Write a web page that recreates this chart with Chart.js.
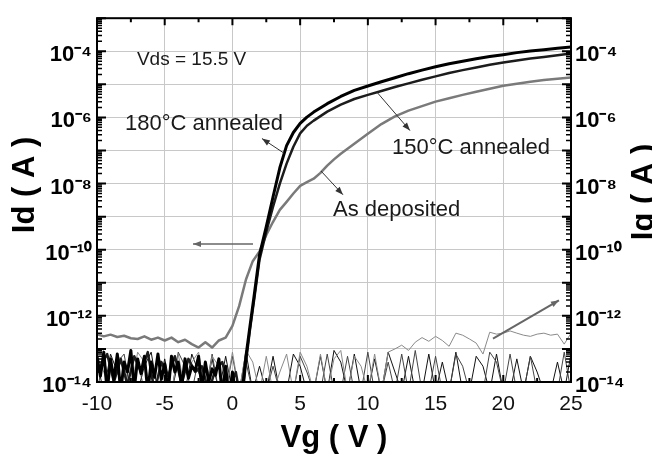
<!DOCTYPE html>
<html>
<head>
<meta charset="utf-8">
<script src="https://cdn.jsdelivr.net/npm/chart.js@4.4.1/dist/chart.umd.min.js"></script>
<style>
  html, body { margin: 0; padding: 0; background: #fff; overflow: hidden; }
  #wrap { width: 652px; height: 454px; }
</style>
</head>
<body>
<div id="wrap"><canvas id="c" width="652" height="454"></canvas></div>
<script>
// ---- data ----
// Id, 180 C annealed (thick black)
const vg180 = [-10,-9.75,-9.5,-9.25,-9,-8.75,-8.5,-8.25,-8,-7.75,-7.5,-7.25,-7,-6.75,-6.5,-6.25,-6,-5.75,-5.5,-5.25,
  -5,-4.75,-4.5,-4.25,-4,-3.75,-3.5,-3.25,-3,-2.75,-2.5,-2.25,-2,-1.75,-1.5,-1.25,-1,-0.75,-0.5,-0.25,0,0.25,0.5,
  0.8,1.0,1.3,1.6,2.0,2.5,3.0,3.5,4.0,4.5,5,5.5,6,7,8,9,10,11,12,13,14,15,16,17,18,19,20,21,22,23,24,25];
const id180 = [6e-14,1.5e-14,8e-14,5e-15,5e-14,1.2e-14,7e-14,5e-15,4e-14,2e-14,
  9e-14,6e-15,5e-14,1.8e-14,6e-14,5e-15,4e-14,1.4e-14,7e-14,1.2e-14,
  3.5e-14,5e-15,6e-14,2e-14,4e-14,7e-15,5e-14,1.3e-14,3e-14,2.2e-14,
  6e-14,6e-15,4e-14,1e-14,2.5e-14,1.6e-14,5e-14,4e-15,3e-14,3e-15,2e-14,4e-15,3e-15,
  1e-14,6e-14,5e-13,4e-12,7e-11,5e-10,4e-9,3e-8,1.4e-7,3.5e-7,6.6e-7,1.02e-6,1.45e-6,2.6e-6,4.3e-6,6.6e-6,8.9e-6,
  1.2e-5,1.58e-5,2.1e-5,2.7e-5,3.4e-5,4.2e-5,5.0e-5,5.9e-5,6.9e-5,7.9e-5,9.1e-5,1.02e-4,1.12e-4,1.23e-4,1.35e-4];

// Id, 150 C annealed (black)
const vg150 = [-9.75,-9.25,-8.75,-8.25,-7.75,-7.25,-6.75,-6.25,-5.75,-5.25,-4.75,-4.25,-3.75,-3.25,-2.75,-2.25,-1.75,-1.25,-0.75,-0.25,0.25,
  0.6,0.85,1.0,1.3,1.6,2.0,2.5,3.0,3.5,4.0,4.5,5,5.5,6,7,8,9,10,11,12,13,14,15,16,17,18,19,20,21,22,23,24,25];
const id150 = [3e-14,7e-14,1e-14,5e-14,8e-15,6e-14,2e-14,8e-14,5e-15,4e-14,1.5e-14,6e-14,9e-15,5e-14,2e-14,3e-14,5e-15,2.5e-14,4e-14,6e-15,2e-14,
  3e-15,1e-14,4e-14,4e-13,3e-12,5e-11,3.5e-10,2e-9,1e-8,4e-8,1.3e-7,3.3e-7,5.6e-7,8e-7,1.5e-6,2.45e-6,3.6e-6,4.8e-6,
  6.3e-6,8.3e-6,1.07e-5,1.38e-5,1.74e-5,2.19e-5,2.69e-5,3.24e-5,3.89e-5,4.57e-5,5.25e-5,6.03e-5,6.76e-5,7.59e-5,8.51e-5];

// Id, as deposited (grey)
const vgDep = [-10,-9.5,-9,-8.5,-8,-7.5,-7,-6.5,-6,-5.5,-5,-4.5,-4,-3.5,-3,-2.5,-2,-1.5,-1,-0.5,0,
  0.5,1,1.5,2,2.5,3,3.5,4,4.5,5,5.5,6,6.5,7,7.5,8,9,10,11,12,13,14,15,16,17,18,19,20,21,22,23,24,25];
const idDep = [2.8e-13,2.4e-13,2.7e-13,2.3e-13,2.5e-13,2.1e-13,2.0e-13,2.4e-13,1.9e-13,2.2e-13,1.8e-13,2.2e-13,1.6e-13,1.9e-13,1.4e-13,1.1e-13,1.6e-13,1.1e-13,1.8e-13,2.2e-13,5e-13,
  2e-12,1.26e-11,4.5e-11,8.9e-11,2.8e-10,7e-10,1.6e-9,2.8e-9,5e-9,8.5e-9,1.1e-8,1.4e-8,2.1e-8,3.5e-8,5.4e-8,8e-8,
  1.6e-7,3.2e-7,6.3e-7,1.07e-6,1.6e-6,2.2e-6,3e-6,3.8e-6,4.8e-6,6e-6,7.4e-6,9.1e-6,1.05e-5,1.2e-5,1.35e-5,1.48e-5,1.62e-5];

// Ig, gate leakage (thin lines), shared Vg
const vgIg = [-10,-9.5,-9,-8.5,-8,-7.5,-7,-6.5,-6,-5.5,-5,-4.5,-4,-3.5,-3,-2.5,-2,-1.5,-1,-0.5,
  0,0.5,1,1.5,2,2.5,3,3.5,4,4.5,5,5.5,6,6.5,7,7.5,8,8.5,9,9.5,
  10,10.5,11,11.5,12,12.5,13,13.5,14,14.5,15,15.5,16,16.5,17,17.5,18,18.5,19,19.5,
  20,20.5,21,21.5,22,22.5,23,23.5,24,24.5,25];
const ig180 = [4e-14,5e-15,7e-14,2e-14,5e-15,6e-14,5e-15,3e-14,8e-14,5e-15,
  5e-14,5e-15,4e-14,5e-15,7e-14,2e-14,5e-15,5e-14,5e-15,6e-14,
  5e-15,5e-15,8e-14,5e-15,3e-14,5e-15,6e-14,5e-15,5e-15,7e-14,
  3e-14,5e-15,5e-15,6e-14,5e-15,9e-14,4e-14,5e-15,7e-14,5e-15,
  5e-15,5e-14,5e-15,8e-14,2e-14,5e-15,6e-14,5e-15,5e-15,7e-14,
  5e-15,4e-14,5e-15,8e-14,5e-15,5e-15,6e-14,3e-14,5e-15,7e-14,
  5e-15,5e-15,5e-14,5e-15,6e-14,2e-14,5e-15,5e-15,4e-14,5e-15,7e-14];
const ig150 = [5e-15,6e-14,5e-15,4e-14,7e-14,5e-15,5e-14,5e-15,5e-15,6e-14,
  2e-14,5e-15,8e-14,3e-14,5e-15,5e-14,5e-15,7e-14,5e-15,5e-15,
  6e-14,5e-15,4e-14,5e-15,5e-15,5e-15,3e-14,5e-15,5e-15,5e-15,
  6e-14,2e-14,5e-15,5e-15,7e-14,5e-15,5e-15,6e-14,5e-15,5e-15,
  8e-14,5e-15,5e-15,4e-14,5e-15,7e-14,5e-15,9e-14,5e-15,5e-15,
  6e-14,5e-15,5e-15,7e-14,3e-14,5e-15,5e-15,5e-15,8e-14,4e-14,
  5e-15,7e-14,5e-15,5e-15,6e-14,5e-15,5e-15,5e-15,5e-15,8e-14,5e-15];
const igDep = [6e-14,2e-14,5e-15,7e-14,3e-14,5e-15,8e-14,4e-14,5e-15,6e-14,
  2e-14,5e-15,7e-14,5e-15,4e-14,8e-14,5e-15,6e-14,3e-14,5e-15,
  8e-14,5e-15,9e-14,4e-14,5e-15,6e-14,5e-15,2e-14,7e-14,5e-15,
  8e-14,3e-14,5e-15,7e-14,5e-15,5e-14,9e-14,5e-15,6e-14,3e-14,
  5e-15,7e-14,5e-15,8e-14,1e-13,1.3e-13,9e-14,1.6e-13,2.2e-13,1.7e-13,
  2.4e-13,1.8e-13,1.2e-13,3e-13,2.6e-13,2e-13,1.5e-13,7e-14,3.2e-13,2.8e-13,
  3e-13,3.5e-13,3e-13,2.6e-13,2.4e-13,2.8e-13,3e-13,2.6e-13,2.8e-13,1.4e-13,3e-13];

// axis ticks
const vgTicks = [-10,-5,0,5,10,15,20,25];
const iTicks = [1e-14,1e-13,1e-12,1e-11,1e-10,1e-9,1e-8,1e-7,1e-6,1e-5,1e-4,1e-3];
const iLabelled = [-14,-12,-10,-8,-6,-4];

// annotations (data coordinates)
const notes = [
  { text: 'Vds = 15.5 V', x: -7.05, y: 5.6e-5, size: 19 },
  { text: '180\u00B0C annealed', x: -7.93, y: 6.5e-7, size: 22 },
  { text: '150\u00B0C annealed', x: 11.78, y: 1.17e-7, size: 22 },
  { text: 'As deposited', x: 7.43, y: 1.55e-9, size: 22 }
];
const arrows = [
  { from: [3.81, 8.3e-8], to: [2.18, 2.3e-7], color: '#333', w: 1 },
  { from: [10.67, 5.8e-6], to: [13.11, 4e-7], color: '#333', w: 1 },
  { from: [6.54, 2.4e-8], to: [8.16, 4.6e-9], color: '#333', w: 1 },
  { from: [1.52, 1.48e-10], to: [-2.91, 1.48e-10], color: '#666', w: 1.5 },
  { from: [19.24, 2.04e-13], to: [24.11, 2.95e-12], color: '#666', w: 2 }
];

const sup = { '-': '\u207B', '0': '\u2070', '1': '\u00B9', '2': '\u00B2', '3': '\u00B3', '4': '\u2074',
  '5': '\u2075', '6': '\u2076', '7': '\u2077', '8': '\u2078', '9': '\u2079' };
const powLabel = (v) => {
  const e = Math.round(Math.log10(v));
  if (!iLabelled.includes(e)) return '';
  return '10' + String(e).split('').map(c => sup[c]).join('');
};

const pts = (xs, ys) => xs.map((v, i) => ({ x: v, y: ys[i] }));

const line = (label, xs, ys, color, w, order) => ({
  label, data: pts(xs, ys), borderColor: color, borderWidth: w,
  pointRadius: 0, tension: 0, fill: false, clip: 0, order,
  borderJoinStyle: 'round'
});

const decor = {
  id: 'decor',
  afterDraw(chart) {
    const { ctx, chartArea: a, scales: { x, y } } = chart;
    ctx.save();
    ctx.strokeStyle = '#000';
    // inward ticks on y (both sides)
    for (let d = -14; d <= -3; d++) {
      const py = y.getPixelForValue(Math.pow(10, d));
      ctx.lineWidth = 2;
      ctx.beginPath();
      ctx.moveTo(a.left, py); ctx.lineTo(a.left + 9, py);
      ctx.moveTo(a.right, py); ctx.lineTo(a.right - 9, py);
      ctx.stroke();
      if (d === -3) continue;
      ctx.lineWidth = 1.5;
      ctx.beginPath();
      for (let k = 2; k <= 9; k++) {
        const q = y.getPixelForValue(k * Math.pow(10, d));
        ctx.moveTo(a.left, q); ctx.lineTo(a.left + 5, q);
        ctx.moveTo(a.right, q); ctx.lineTo(a.right - 5, q);
      }
      ctx.stroke();
    }
    // inward ticks on x (top and bottom)
    for (let v = -10; v <= 25; v += 2.5) {
      const px = x.getPixelForValue(v);
      const len = (v % 5 === 0) ? 7 : 4;
      ctx.lineWidth = 2;
      ctx.beginPath();
      ctx.moveTo(px, a.bottom); ctx.lineTo(px, a.bottom - len);
      ctx.moveTo(px, a.top); ctx.lineTo(px, a.top + len);
      ctx.stroke();
    }
    // frame
    ctx.lineWidth = 2;
    ctx.strokeRect(a.left, a.top, a.right - a.left, a.bottom - a.top);

    // annotation text
    ctx.fillStyle = '#1a1a1a';
    ctx.textBaseline = 'middle';
    ctx.textAlign = 'left';
    notes.forEach(n => {
      ctx.font = n.size + 'px "Liberation Sans", Arial, sans-serif';
      ctx.fillText(n.text, x.getPixelForValue(n.x), y.getPixelForValue(n.y));
    });
    // arrows
    arrows.forEach(r => {
      const x0 = x.getPixelForValue(r.from[0]), y0 = y.getPixelForValue(r.from[1]);
      const x1 = x.getPixelForValue(r.to[0]), y1 = y.getPixelForValue(r.to[1]);
      const ang = Math.atan2(y1 - y0, x1 - x0);
      ctx.strokeStyle = r.color; ctx.fillStyle = r.color; ctx.lineWidth = r.w;
      ctx.beginPath(); ctx.moveTo(x0, y0); ctx.lineTo(x1, y1); ctx.stroke();
      ctx.beginPath();
      ctx.moveTo(x1, y1);
      ctx.lineTo(x1 - 8 * Math.cos(ang) + 3 * Math.sin(ang), y1 - 8 * Math.sin(ang) - 3 * Math.cos(ang));
      ctx.lineTo(x1 - 8 * Math.cos(ang) - 3 * Math.sin(ang), y1 - 8 * Math.sin(ang) + 3 * Math.cos(ang));
      ctx.closePath(); ctx.fill();
    });
    // y axis titles (both read bottom to top)
    ctx.fillStyle = '#000';
    ctx.font = 'bold 31px "Liberation Sans", Arial, sans-serif';
    ctx.textAlign = 'center';
    [['Id ( A )', 25, 185], ['Ig ( A )', 644, 192]].forEach(([t, tx, ty]) => {
      ctx.save();
      ctx.translate(tx, ty);
      ctx.rotate(-Math.PI / 2);
      ctx.fillText(t, 0, 0);
      ctx.restore();
    });
    ctx.restore();
  }
};

const gridCol = '#c8c8c8';
const tickFontY = { family: '"Liberation Sans", Arial, sans-serif', size: 22, weight: 'bold' };

new Chart(document.getElementById('c'), {
  type: 'line',
  data: {
    datasets: [
      line('180\u00B0C annealed', vg180, id180, '#000000', 3, 1),
      line('150\u00B0C annealed', vg150, id150, '#1c1c1c', 2.5, 2),
      line('As deposited', vgDep, idDep, '#7a7a7a', 2.5, 3),
      line('Ig 180', vgIg, ig180, '#111111', 1, 6),
      line('Ig 150', vgIg, ig150, '#444444', 1, 5),
      line('Ig as deposited', vgIg, igDep, '#8a8a8a', 1, 4)
    ]
  },
  options: {
    responsive: false,
    devicePixelRatio: 1,
    animation: false,
    layout: { padding: { top: 13, left: 0, right: 0, bottom: 0 } },
    plugins: { legend: { display: false }, tooltip: { enabled: false } },
    scales: {
      x: {
        type: 'linear', min: -10, max: 25,
        afterBuildTicks: s => { s.ticks = vgTicks.map(v => ({ value: v })); },
        afterFit: s => { s.height = 72; },
        grid: { color: gridCol, lineWidth: 1, drawTicks: false },
        border: { display: false },
        ticks: { padding: 10, color: '#111', font: { family: '"Liberation Sans", Arial, sans-serif', size: 21 } },
        title: { display: true, text: 'Vg ( V )', color: '#000', padding: { top: 0, bottom: -3 },
          font: { family: '"Liberation Sans", Arial, sans-serif', size: 31, weight: 'bold' } }
      },
      y: {
        type: 'logarithmic', position: 'left', min: 1e-14, max: 1e-3,
        afterBuildTicks: s => { s.ticks = iTicks.map(v => ({ value: v })); },
        afterFit: s => { s.width = 97; },
        grid: { color: gridCol, lineWidth: 1, drawTicks: false },
        border: { display: false },
        ticks: { padding: 5, labelOffset: 4, color: '#000', font: tickFontY, autoSkip: false, callback: powLabel }
      },
      y2: {
        type: 'logarithmic', position: 'right', min: 1e-14, max: 1e-3,
        afterBuildTicks: s => { s.ticks = iTicks.map(v => ({ value: v })); },
        afterFit: s => { s.width = 81; },
        grid: { display: false, drawTicks: false },
        border: { display: false },
        ticks: { padding: 4, labelOffset: 4, color: '#000', font: tickFontY, autoSkip: false, callback: powLabel }
      }
    }
  },
  plugins: [decor]
});
</script>
</body>
</html>
